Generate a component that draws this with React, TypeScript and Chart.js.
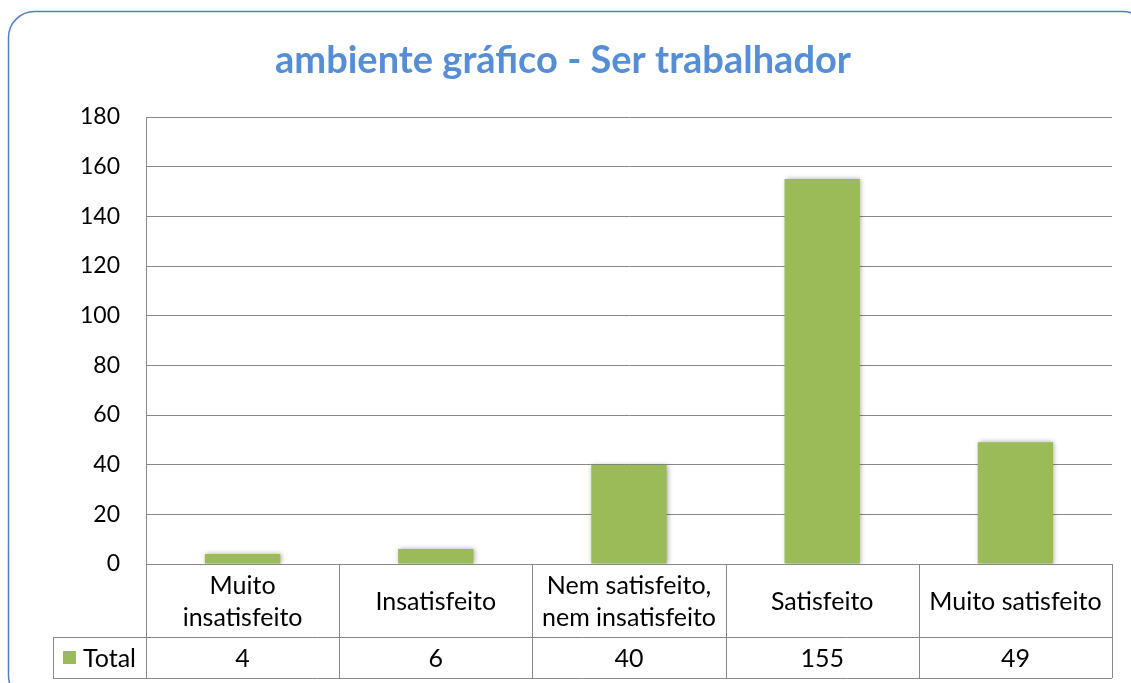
import React, { useEffect, useRef } from "react";
import { Chart, registerables } from "chart.js";

Chart.register(...registerables);

const categories: (string | string[])[] = [
  ["Muito", "insatisfeito"],
  "Insatisfeito",
  ["Nem satisfeito,", "nem insatisfeito"],
  "Satisfeito",
  "Muito satisfeito",
];
const seriesName = "Total";
const totals = [4, 6, 40, 155, 49];
const yTicks = [0, 20, 40, 60, 80, 100, 120, 140, 160, 180];
const titleText = "ambiente gráfico - Ser trabalhador";

const FONT = "Lato, 'Open Sans', sans-serif";
const GRID = "#888888";
const GREEN = "#9BBB59";

const framePlugin = {
  id: "frame",
  beforeDraw(chart: any) {
    const ctx = chart.ctx;
    ctx.save();
    ctx.fillStyle = "#ffffff";
    ctx.fillRect(0, 0, chart.width, chart.height);
    ctx.strokeStyle = "#4F81BD";
    ctx.lineWidth = 1.5;
    ctx.beginPath();
    ctx.roundRect(8.5, 11.5, 1140, 690, 26);
    ctx.stroke();
    // title
    ctx.fillStyle = "#558ED5";
    ctx.font = `bold 38px ${FONT}`;
    ctx.textAlign = "center";
    ctx.textBaseline = "middle";
    ctx.fillText(titleText, 563, 61);
    ctx.restore();
  },
};

const shadowPlugin = {
  id: "barShadow",
  beforeDatasetsDraw(chart: any) {
    const ctx = chart.ctx;
    ctx.save();
    ctx.shadowColor = "rgba(0,0,0,0.35)";
    ctx.shadowBlur = 5;
    ctx.shadowOffsetX = 1;
    ctx.shadowOffsetY = 0;
  },
  afterDatasetsDraw(chart: any) {
    chart.ctx.restore();
  },
};

const tablePlugin = {
  id: "dataTable",
  afterDraw(chart: any) {
    const ctx = chart.ctx;
    const area = chart.chartArea;
    const x = chart.scales.x;
    const n = categories.length;
    const catW = (area.right - area.left) / n;
    const top = area.bottom;
    const row1 = top + 73;
    const row2 = row1 + 41;
    const leftCell = 53;
    ctx.save();
    ctx.strokeStyle = GRID;
    ctx.lineWidth = 1;
    const hl = (x1: number, x2: number, y: number) => {
      ctx.beginPath();
      ctx.moveTo(x1, Math.round(y) + 0.5);
      ctx.lineTo(x2, Math.round(y) + 0.5);
      ctx.stroke();
    };
    const vl = (xx: number, y1: number, y2: number) => {
      ctx.beginPath();
      ctx.moveTo(Math.round(xx) + 0.5, y1);
      ctx.lineTo(Math.round(xx) + 0.5, y2);
      ctx.stroke();
    };
    hl(area.left, area.right, top);
    hl(leftCell, area.right, row1);
    hl(leftCell, area.right, row2);
    vl(leftCell, row1, row2);
    for (let i = 0; i <= n; i++) {
      vl(area.left + i * catW, top, row2);
    }
    ctx.fillStyle = "#000";
    ctx.font = `25px ${FONT}`;
    ctx.textAlign = "center";
    ctx.textBaseline = "middle";
    categories.forEach((c, i) => {
      const cx = x.getPixelForValue(i);
      const lines = Array.isArray(c) ? c : [c];
      const lh = 32;
      const cy = (top + row1) / 2 + 1;
      lines.forEach((ln, j) => {
        ctx.fillText(ln, cx, cy + (j - (lines.length - 1) / 2) * lh);
      });
      ctx.fillText(String(totals[i]), cx, (row1 + row2) / 2 + 1);
    });
    // legend key
    ctx.fillStyle = GREEN;
    ctx.fillRect(63, 651, 13, 13);
    ctx.fillStyle = "#000";
    ctx.textAlign = "left";
    ctx.fillText(seriesName, 83, (row1 + row2) / 2 + 1);
    ctx.restore();
  },
};

export default function App() {
  const ref = useRef<HTMLCanvasElement>(null);
  useEffect(() => {
    document.body.style.margin = "0";
    const chart = new Chart(ref.current as HTMLCanvasElement, {
      type: "bar",
      data: {
        labels: categories as any,
        datasets: [
          {
            label: seriesName,
            data: totals,
            backgroundColor: GREEN,
            borderWidth: 0,
            barPercentage: 0.39,
            categoryPercentage: 1,
          },
        ],
      },
      options: {
        animation: false,
        responsive: false,
        devicePixelRatio: 1,
        layout: { padding: { left: 0, right: 19, top: 117, bottom: 119 } },
        plugins: {
          legend: { display: false },
          title: { display: false },
          tooltip: { enabled: false },
        },
        scales: {
          x: { display: false },
          y: {
            min: 0,
            max: 180,
            afterFit(scale: any) {
              scale.width = 146;
            },
            afterBuildTicks(scale: any) {
              scale.ticks = yTicks.map((v) => ({ value: v }));
            },
            ticks: {
              color: "#000",
              font: { family: FONT, size: 23 },
              padding: 26,
            },
            grid: { color: GRID, drawTicks: false, lineWidth: 1 },
            border: { display: true, color: GRID },
          },
        },
      },
      plugins: [framePlugin, shadowPlugin, tablePlugin],
    });
    return () => chart.destroy();
  }, []);
  return (
    <div style={{ position: "absolute", left: 0, top: 0, width: 1131, height: 683 }}>
      <canvas ref={ref} width={1131} height={683} style={{ width: 1131, height: 683 }} />
    </div>
  );
}
